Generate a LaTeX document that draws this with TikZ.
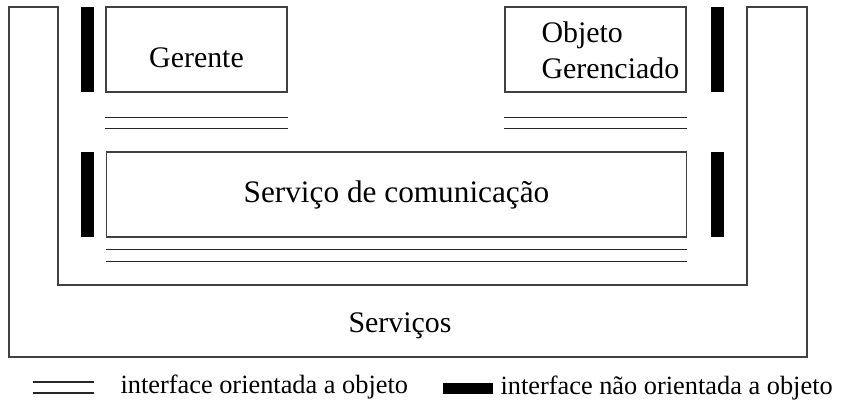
\documentclass[tikz,border=0pt]{standalone}
\usepackage{fontspec}
\setmainfont{Liberation Serif}
\usetikzlibrary{positioning}

\begin{document}
\begin{tikzpicture}[x=0.02cm, y=-0.02cm, line width=0.6pt,
    box/.style={draw=black!75, minimum width=3.62cm, minimum height=1.7cm,
      inner sep=0pt, font=\fontsize{17}{20.4}\selectfont},
    nobar/.style={fill=black, minimum width=0.26cm, minimum height=1.7cm, inner sep=0pt},
    oo/.style={draw=black!85},
    legend/.style={font=\fontsize{15}{18}\selectfont, inner sep=0pt}]
  \useasboundingbox (0,0) rectangle (843,400);

  % servicos (U shape)
  \draw[black!75] (9,7) -- (9,357) -- (807,357) -- (807,7) -- (747,7)
    -- (747,285) -- (58,285) -- (58,7) -- cycle;
  \node[font=\fontsize{17}{20.4}\selectfont] (serv) at (400,326) {Serviços};

  \node[box, text height=0.7cm, text depth=0pt] (ger) at (196.5,49.5) {Gerente};
  \node[box]                          (obj) at (595.5,49.5) {};
  \node[box, minimum width=11.62cm,
        font=\fontsize{17.8}{21}\selectfont] (com) at (396.5,194.5) {Serviço de comunicação};
  \node[anchor=north west, align=left, inner sep=0pt,
        font=\fontsize{17}{20.4}\selectfont] (objtxt) at (541,21.5) {Objeto\\Gerenciado};

  % interfaces nao orientadas a objeto
  \node[nobar, left=0.22cm of ger]  (bger) {};
  \node[nobar, right=0.48cm of obj] (bobj) {};
  \node[nobar, left=0.22cm of com]  (bcom1) {};
  \node[nobar, right=0.46cm of com] (bcom2) {};

  % interfaces orientadas a objeto
  \draw[oo] ([yshift=-0.5cm]ger.south west)  -- ([yshift=-0.5cm]ger.south east);
  \draw[oo] ([yshift=-0.72cm]ger.south west) -- ([yshift=-0.72cm]ger.south east);
  \draw[oo] ([yshift=-0.5cm]obj.south west)  -- ([yshift=-0.5cm]obj.south east);
  \draw[oo] ([yshift=-0.72cm]obj.south west) -- ([yshift=-0.72cm]obj.south east);
  \draw[oo] ([yshift=-0.24cm]com.south west) -- ([yshift=-0.24cm]com.south east);
  \draw[oo] ([yshift=-0.48cm]com.south west) -- ([yshift=-0.48cm]com.south east);

  % legenda
  \coordinate (k1) at (33,382);
  \coordinate (k2) at (33,393);
  \draw[oo] (k1) -- ++(61,0);
  \draw[oo] (k2) -- ++(61,0);
  \node[legend, anchor=base west] (legoo) at (120,393) {interface orientada a objeto};
  \node[nobar, minimum width=1cm, minimum height=0.22cm] (legbar) at (468,388.5) {};
  \node[legend, anchor=base west] (legno) at (500,394) {interface não orientada a objeto};
\end{tikzpicture}
\end{document}
